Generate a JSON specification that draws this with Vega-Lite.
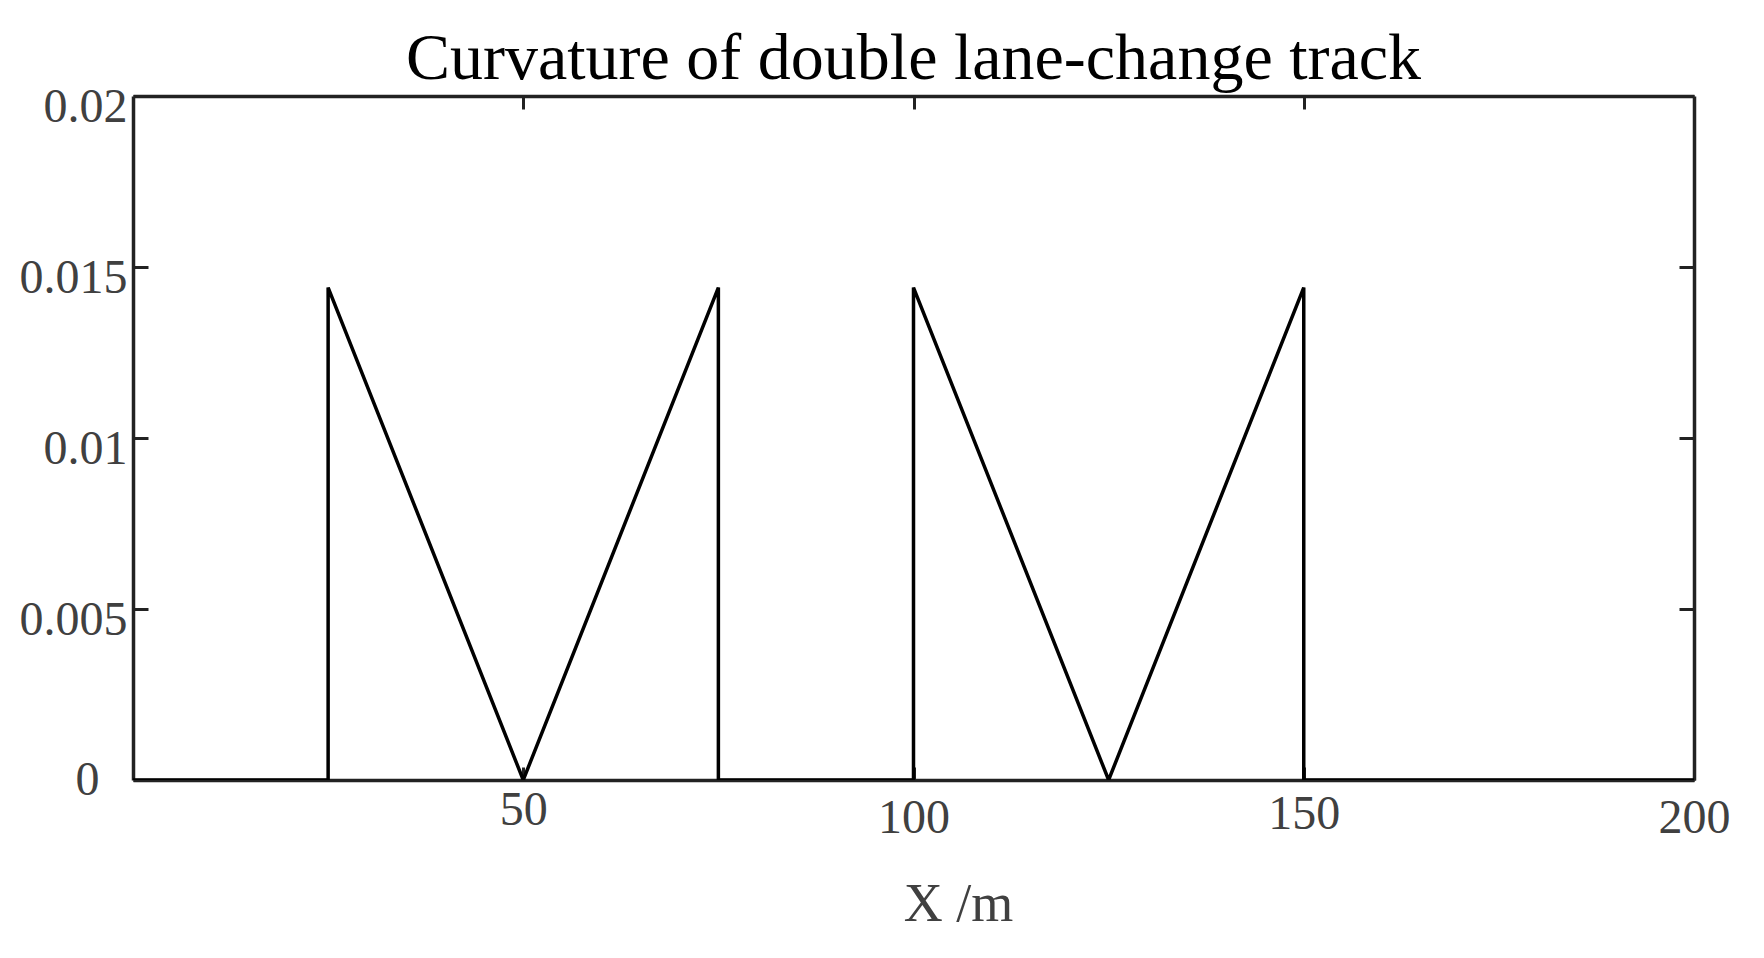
{
  "$schema": "https://vega.github.io/schema/vega-lite/v6.json",
  "autosize": "none",
  "width": 1561,
  "height": 684,
  "padding": {"left": 133, "top": 96, "right": 70, "bottom": 178},
  "background": "white",
  "title": {
    "text": "Curvature of double lane-change track",
    "font": "Liberation Serif",
    "fontSize": 66,
    "fontWeight": "normal",
    "color": "#000000",
    "anchor": "middle",
    "baseline": "alphabetic",
    "offset": 14,
    "dy": 76
  },
  "config": {
    "view": {"stroke": null},
    "axis": {"grid": false}
  },
  "data": {
    "values": [
      {"i": 0, "x": 0, "k": 0},
      {"i": 1, "x": 25, "k": 0},
      {"i": 2, "x": 25, "k": 0.0144},
      {"i": 3, "x": 50, "k": 0},
      {"i": 4, "x": 75, "k": 0.0144},
      {"i": 5, "x": 75, "k": 0},
      {"i": 6, "x": 100, "k": 0},
      {"i": 7, "x": 100, "k": 0.0144},
      {"i": 8, "x": 125, "k": 0},
      {"i": 9, "x": 150, "k": 0.0144},
      {"i": 10, "x": 150, "k": 0},
      {"i": 11, "x": 200, "k": 0}
    ]
  },
  "layer": [
    {
      "mark": {"type": "line", "color": "#000000", "strokeWidth": 3.5, "clip": true},
      "encoding": {
        "x": {
          "field": "x", "type": "quantitative",
          "scale": {"domain": [0, 200], "nice": false, "zero": false},
          "axis": {
            "orient": "bottom",
            "values": [50, 100, 150, 200],
            "domainColor": "#222222", "domainWidth": 3.5,
            "tickColor": "#222222", "tickWidth": 3, "tickSize": -13,
            "labelFont": "Liberation Serif", "labelFontSize": 48, "labelColor": "#404040",
            "labelPadding": {"condition": [{"test": "datum.value == 50", "value": 19}, {"test": "datum.value == 150", "value": 23}], "value": 27},
            "labelBaseline": "top", "labelFlush": false,
            "title": "X /m",
            "titleFont": "Liberation Serif", "titleFontSize": 54, "titleFontWeight": "normal", "titleColor": "#404040",
            "titleX": 825, "titleY": 140, "titleBaseline": "alphabetic", "titleAlign": "center"
          }
        },
        "y": {
          "field": "k", "type": "quantitative",
          "scale": {"domain": [0, 0.02], "nice": false, "zero": false},
          "axis": {
            "orient": "left",
            "values": [0, 0.005, 0.01, 0.015, 0.02],
            "format": "~g",
            "domainColor": "#222222", "domainWidth": 3.5,
            "tickColor": "#222222", "tickWidth": 3, "tickSize": -15,
            "labelFont": "Liberation Serif", "labelFontSize": 48, "labelColor": "#404040",
            "labelPadding": {"condition": {"test": "datum.value == 0", "value": 49}, "value": 21},
            "labelOffset": {"condition": {"test": "datum.value == 0", "value": 0}, "value": 11},
            "labelAlign": "right", "labelBaseline": "middle",
            "title": null
          }
        },
        "order": {"field": "i", "type": "quantitative"}
      }
    },
    {
      "mark": {"type": "line", "opacity": 0},
      "encoding": {
        "x": {
          "field": "x", "type": "quantitative",
          "axis": {
            "orient": "top",
            "values": [50, 100, 150],
            "labels": false,
            "domainColor": "#222222", "domainWidth": 3.5,
            "tickColor": "#222222", "tickWidth": 3, "tickSize": -13,
            "title": null
          }
        },
        "y": {
          "field": "k", "type": "quantitative",
          "axis": {
            "orient": "right",
            "values": [0, 0.005, 0.01, 0.015, 0.02],
            "labels": false,
            "domainColor": "#222222", "domainWidth": 3.5,
            "tickColor": "#222222", "tickWidth": 3, "tickSize": -15,
            "title": null
          }
        },
        "order": {"field": "i", "type": "quantitative"}
      }
    }
  ],
  "resolve": {"axis": {"x": "independent", "y": "independent"}}
}
